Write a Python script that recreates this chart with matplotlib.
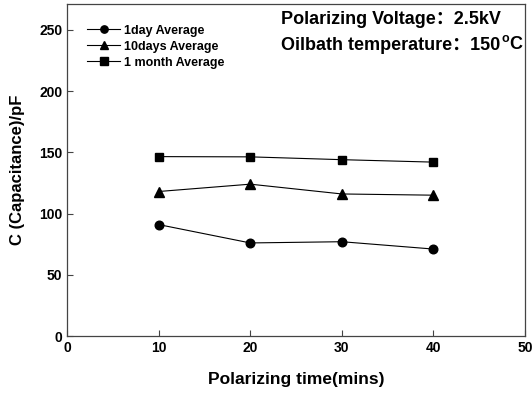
import matplotlib
matplotlib.use("Agg")
import matplotlib.pyplot as plt

plt.rcParams['font.family'] = ['Liberation Sans', 'Noto Sans CJK SC', 'DejaVu Sans']
plt.rcParams['font.weight'] = 'bold'

# data
times = [10, 20, 30, 40]
day1 = [91, 76, 77, 71]
days10 = [118, 124, 116, 115]
month1 = [146.5, 146.3, 144, 142]

series = [
    (day1, 'o', '1day Average', 6.2),
    (days10, '^', '10days Average', 6.8),
    (month1, 's', '1 month Average', 6.0),
]

fig = plt.figure(figsize=(5.32, 3.96), dpi=100)
ax = fig.add_axes([0.126, 0.1515, 0.861, 0.838])

for vals, mk, lab, ms in series:
    ax.plot(times, vals, color='black', lw=0.8, marker=mk, ms=ms, label=lab)

ax.set_xlim(0, 50)
ax.set_ylim(0, 271)
ax.set_xticks([0, 10, 20, 30, 40, 50])
ax.set_yticks([0, 50, 100, 150, 200, 250])
ax.tick_params(direction='in', length=4, width=0.8, labelsize=10, color='#444444')
for lbl in ax.get_xticklabels() + ax.get_yticklabels():
    lbl.set_fontweight('bold')
for sp in ax.spines.values():
    sp.set_color('#444444')
    sp.set_linewidth(0.9)

ax.set_xlabel('Polarizing time(mins)', fontsize=12.5, fontweight='bold', labelpad=12)
ax.set_ylabel('C (Capacitance)/pF', fontsize=12, fontweight='bold', labelpad=10)

ax.legend(loc='upper left', bbox_to_anchor=(0.02, 0.972), frameon=False,
          handlelength=2.6, handletextpad=0.35, labelspacing=0.32, markerscale=0.85,
          prop={'weight': 'bold', 'size': 9})

ax.text(0.467, 0.955, 'Polarizing Voltage：2.5kV', transform=ax.transAxes,
        fontsize=13, fontweight='bold', va='center', ha='left')
t2 = ax.text(0.467, 0.875, 'Oilbath temperature：150', transform=ax.transAxes,
             fontsize=13, fontweight='bold', va='center', ha='left')
t3 = ax.annotate('o', xy=(1, 0.55), xycoords=t2, xytext=(1, 0), textcoords='offset points',
                 fontsize=9, fontweight='bold', va='bottom', ha='left')
ax.annotate('C', xy=(1, 0), xycoords=t3, xytext=(0, 0), textcoords='offset points',
            fontsize=13, fontweight='bold', va='center', ha='left')

fig.savefig('out.png', dpi=100)
